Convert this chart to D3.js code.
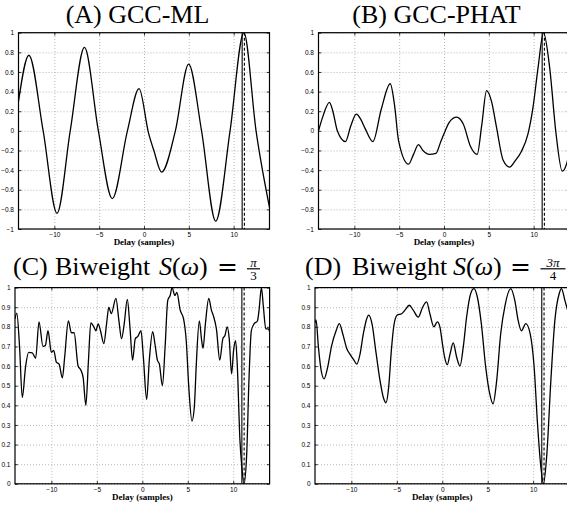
<!DOCTYPE html>
<html>
<head>
<meta charset="utf-8">
<script src="https://cdn.jsdelivr.net/npm/d3@7"></script>
<style>
  body { margin: 0; background: #fff; }
  svg { display: block; }
  .axis path, .grid path { display: none; }
  .axis line { stroke: #000; stroke-width: 0.8; }
  .axis text { font-family: "Liberation Sans", Arial, sans-serif; font-size: 6.5px; fill: #000; }
  .grid line { stroke: #888; stroke-width: 0.6; stroke-dasharray: 1,2; }
  .frame { fill: none; stroke: #000; stroke-width: 1.2; }
  .curve { fill: none; stroke: #000; stroke-width: 1.3; }
  .title { font-family: "Liberation Serif", "Times New Roman", serif; font-size: 26px; fill: #000; }
  .xlabel { font-family: "Liberation Serif", serif; font-weight: bold; font-size: 9px; }
</style>
</head>
<body>
<svg id="fig" width="567" height="505"></svg>
<script>
// Axis ticks
const delayTicks = [-10, -5, 0, 5, 10];
const gccTicks = [-1, -0.8, -0.6, -0.4, -0.2, 0, 0.2, 0.4, 0.6, 0.8, 1];
const biweightTicks = [0, 0.1, 0.2, 0.3, 0.4, 0.5, 0.6, 0.7, 0.8, 0.9, 1];
const delayRange = [-14, 14];

// Vertical markers (solid = true delay, dashed = estimate)
const trueDelay = 10.95;
const estimatedDelay = 11.2;

// [delay, value]
const gccML = [
  [-14, 0.30], [-12.84, 0.77], [-11.25, 0.0], [-9.7, -0.84], [-8.23, 0.0],
  [-6.64, 0.85], [-5.09, 0.0], [-3.54, -0.69], [-1.85, 0.0], [-0.55, 0.43],
  [0.5, -0.02], [1.1, -0.2], [1.96, -0.42], [3.5, 0.0], [4.98, 0.68],
  [6.42, 0.0], [8.0, -0.92], [9.6, 0.0], [11.14, 1.0], [12.5, 0.0], [14, -0.78]
];

const gccPHAT = [
  [-14, 0.0], [-13.5, 0.15], [-12.78, 0.29], [-12.4, 0.2], [-11.9, 0.0],
  [-11.0, -0.11], [-10.4, 0.05], [-9.78, 0.17], [-9.3, 0.12], [-8.78, 0.02],
  [-7.93, -0.11], [-7.0, 0.22], [-6.0, 0.48], [-5.5, 0.25], [-5.07, -0.1],
  [-3.96, -0.34], [-3.4, -0.24], [-2.85, -0.14], [-2.35, -0.2], [-1.63, -0.24],
  [-0.9, -0.23], [-0.4, -0.12], [0.0, -0.03], [0.6, 0.09], [1.41, 0.14],
  [2.15, 0.07], [2.96, -0.16], [3.7, -0.24], [4.2, 0.05], [4.75, 0.41],
  [5.3, 0.3], [5.85, 0.04], [6.6, -0.3], [7.33, -0.37], [7.9, -0.31],
  [8.63, -0.21], [9.37, -0.03], [9.93, 0.24], [10.5, 0.65], [11.1, 1.0],
  [11.78, 0.65], [12.5, -0.03], [13.19, -0.41], [13.7, -0.33], [14, -0.2]
];

const biweightThird = [
  [-14, 0.84], [-13.8, 0.87], [-13.5, 0.70], [-13.2, 0.44], [-12.83, 0.60],
  [-12.5, 0.67], [-12.1, 0.667], [-11.73, 0.64], [-11.36, 0.825], [-10.92, 0.70],
  [-10.66, 0.705], [-10.37, 0.78], [-10.0, 0.67], [-9.74, 0.68], [-9.45, 0.62],
  [-9.15, 0.61], [-8.79, 0.54], [-8.53, 0.65], [-8.13, 0.83], [-7.8, 0.77],
  [-7.5, 0.77], [-7.06, 0.60], [-6.76, 0.58], [-6.5, 0.54], [-6.21, 0.40],
  [-5.92, 0.63], [-5.66, 0.82], [-5.33, 0.80], [-5.11, 0.78], [-4.85, 0.815],
  [-4.6, 0.78], [-4.23, 0.715], [-3.93, 0.815], [-3.68, 0.90], [-3.42, 0.867],
  [-2.9, 0.945], [-2.57, 0.83], [-2.28, 0.74], [-1.99, 0.815], [-1.65, 0.94],
  [-1.36, 0.80], [-1.07, 0.63], [-0.77, 0.74], [-0.51, 0.75], [-0.15, 0.78],
  [0.11, 0.65], [0.48, 0.43], [0.77, 0.63], [1.14, 0.775], [1.4, 0.71],
  [1.66, 0.63], [1.88, 0.61], [2.21, 0.50], [2.51, 0.70], [2.8, 0.935],
  [3.06, 0.96], [3.28, 1.0], [3.58, 0.96], [3.8, 0.975], [4.17, 0.885],
  [4.54, 0.84], [4.83, 0.73], [5.13, 0.48], [5.46, 0.32], [5.72, 0.39],
  [5.94, 0.61], [6.27, 0.83], [6.53, 0.73], [6.68, 0.69], [6.94, 0.815],
  [7.31, 0.945], [7.6, 0.885], [7.86, 0.85], [8.15, 0.79], [8.52, 0.63],
  [8.86, 0.74], [9.08, 0.755], [9.34, 0.80], [9.56, 0.74], [9.82, 0.56],
  [10.04, 0.68], [10.26, 0.73], [10.44, 0.61], [10.74, 0.22], [10.95, 0.085],
  [11.18, 0.0], [11.48, 0.15], [11.73, 0.53], [11.99, 0.78], [12.29, 0.815],
  [12.66, 0.83], [12.84, 0.885], [13.1, 1.0], [13.32, 0.90], [13.58, 0.79],
  [13.87, 0.79], [14, 0.775]
];

const biweightThreeQuarter = [
  [-14, 0.82], [-13.88, 0.835], [-13.63, 0.70], [-13.33, 0.58], [-13.0, 0.535],
  [-12.64, 0.587], [-12.16, 0.706], [-11.68, 0.78], [-11.32, 0.816], [-10.95, 0.765],
  [-10.51, 0.69], [-10.07, 0.655], [-9.71, 0.63], [-9.41, 0.61], [-9.05, 0.66],
  [-8.68, 0.765], [-8.32, 0.84], [-8.1, 0.86], [-7.73, 0.816], [-7.29, 0.67],
  [-6.85, 0.527], [-6.48, 0.44], [-6.19, 0.413], [-5.9, 0.49], [-5.6, 0.68],
  [-5.31, 0.81], [-4.95, 0.86], [-4.47, 0.867], [-4.1, 0.885], [-3.63, 0.91],
  [-3.19, 0.885], [-2.64, 0.85], [-2.16, 0.90], [-1.72, 0.927], [-1.36, 0.867],
  [-0.92, 0.80], [-0.55, 0.825], [-0.26, 0.80], [0.0, 0.72], [0.26, 0.646],
  [0.55, 0.607], [0.85, 0.66], [1.21, 0.718], [1.58, 0.646], [1.95, 0.60],
  [2.32, 0.70], [2.68, 0.85], [3.13, 0.97], [3.49, 0.995], [3.86, 0.952],
  [4.3, 0.816], [4.78, 0.595], [5.22, 0.46], [5.59, 0.408], [5.99, 0.527],
  [6.43, 0.765], [6.91, 0.91], [7.54, 0.995], [7.98, 0.935], [8.35, 0.833],
  [8.71, 0.78], [9.19, 0.816], [9.67, 0.765], [10.11, 0.595], [10.48, 0.306],
  [10.85, 0.085], [11.14, 0.0], [11.51, 0.153], [11.95, 0.527], [12.39, 0.833],
  [12.87, 0.97], [13.12, 0.995], [13.49, 0.935], [13.79, 0.885], [14, 0.85]
];

class DelayPanel {
  constructor(_config, _data) {
    this.config = {
      parentElement: _config.parentElement,
      id: _config.id,
      left: _config.left,
      top: _config.top,
      width: _config.width,
      height: _config.height,
      yDomain: _config.yDomain,
      yTicks: _config.yTicks,
    };
    this.data = _data;
    this.initVis();
  }

  initVis() {
    let vis = this;
    const w = vis.config.width;
    const h = vis.config.height;

    vis.xScale = d3.scaleLinear().domain(delayRange).range([0, w]);
    vis.yScale = d3.scaleLinear().domain(vis.config.yDomain).range([h, 0]);

    vis.chart = d3
      .select(vis.config.parentElement)
      .append("g")
      .attr("transform", `translate(${vis.config.left},${vis.config.top})`);

    vis.chart
      .append("clipPath")
      .attr("id", `clip-${vis.config.id}`)
      .append("rect")
      .attr("width", w)
      .attr("height", h);

    // Dotted grid
    vis.chart
      .append("g")
      .attr("class", "grid")
      .attr("transform", `translate(0,${h})`)
      .call(d3.axisBottom(vis.xScale).tickValues(delayTicks).tickSize(-h).tickFormat(""));
    vis.chart
      .append("g")
      .attr("class", "grid")
      .call(d3.axisLeft(vis.yScale).tickValues(vis.config.yTicks).tickSize(-w).tickFormat(""));

    // Inward ticks on all four sides (matlab box)
    vis.chart
      .append("g")
      .attr("class", "axis x-axis")
      .attr("transform", `translate(0,${h})`)
      .call(
        d3.axisBottom(vis.xScale)
          .tickValues(delayTicks)
          .tickSizeInner(-2.8)
          .tickSizeOuter(0)
          .tickPadding(3.5)
          .tickFormat(d3.format("d"))
      );
    vis.chart
      .append("g")
      .attr("class", "axis")
      .call(d3.axisTop(vis.xScale).tickValues(delayTicks).tickSizeInner(-2.8).tickSizeOuter(0).tickFormat(""));
    vis.chart
      .append("g")
      .attr("class", "axis y-axis")
      .call(
        d3.axisLeft(vis.yScale)
          .tickValues(vis.config.yTicks)
          .tickSizeInner(-2.8)
          .tickSizeOuter(0)
          .tickPadding(4.5)
          .tickFormat(d3.format("~g"))
      );
    vis.chart
      .append("g")
      .attr("class", "axis")
      .attr("transform", `translate(${w},0)`)
      .call(d3.axisRight(vis.yScale).tickValues(vis.config.yTicks).tickSizeInner(-2.8).tickSizeOuter(0).tickFormat(""));

    vis.chart
      .append("text")
      .attr("class", "xlabel")
      .attr("x", w / 2)
      .attr("y", h + 16)
      .attr("text-anchor", "middle")
      .text("Delay (samples)");

    vis.renderVis();
  }

  renderVis() {
    let vis = this;
    const h = vis.config.height;

    const line = d3
      .line()
      .x((d) => vis.xScale(d[0]))
      .y((d) => vis.yScale(d[1]))
      .curve(d3.curveMonotoneX);

    vis.chart
      .append("path")
      .datum(vis.data)
      .attr("class", "curve")
      .attr("clip-path", `url(#clip-${vis.config.id})`)
      .attr("d", line);

    // true delay and estimate markers
    vis.chart
      .append("line")
      .attr("x1", vis.xScale(trueDelay))
      .attr("x2", vis.xScale(trueDelay))
      .attr("y1", 0)
      .attr("y2", h)
      .attr("stroke", "#000")
      .attr("stroke-width", 1.1);
    vis.chart
      .append("line")
      .attr("x1", vis.xScale(estimatedDelay))
      .attr("x2", vis.xScale(estimatedDelay))
      .attr("y1", 0)
      .attr("y2", h)
      .attr("stroke", "#000")
      .attr("stroke-width", 1.1)
      .attr("stroke-dasharray", "3,2");

    vis.chart
      .append("rect")
      .attr("class", "frame")
      .attr("width", vis.config.width)
      .attr("height", h);
  }
}

const svg = d3.select("#fig");

new DelayPanel({ parentElement: "#fig", id: "a", left: 18.5, top: 32.7, width: 251, height: 196.3, yDomain: [-1, 1], yTicks: gccTicks }, gccML);
new DelayPanel({ parentElement: "#fig", id: "b", left: 318.5, top: 32.7, width: 251, height: 196.3, yDomain: [-1, 1], yTicks: gccTicks }, gccPHAT);
new DelayPanel({ parentElement: "#fig", id: "c", left: 15, top: 287.6, width: 254.6, height: 196.2, yDomain: [0, 1], yTicks: biweightTicks }, biweightThird);
new DelayPanel({ parentElement: "#fig", id: "d", left: 315, top: 287.6, width: 254.5, height: 196.2, yDomain: [0, 1], yTicks: biweightTicks }, biweightThreeQuarter);

// Titles
svg.append("text").attr("class", "title").attr("x", 137.5).attr("y", 23)
  .attr("text-anchor", "middle").text("(A) GCC-ML");
svg.append("text").attr("class", "title").attr("x", 436.5).attr("y", 23)
  .attr("text-anchor", "middle").text("(B) GCC-PHAT");

function biweightTitle(x0, label, num, den, fracCenter, barWidth) {
  const t = svg.append("text").attr("class", "title").attr("y", 275);
  t.append("tspan").attr("x", x0).text(label);
  t.append("tspan").attr("x", x0 + (label === "(D)" ? 47 : 42)).text("Biweight");
  t.append("tspan").attr("x", x0 + (label === "(D)" ? 148 : 146)).style("font-style", "italic").text("S");
  t.append("tspan").text("(");
  t.append("tspan").style("font-style", "italic").text("ω");
  t.append("tspan").text(")");
  t.append("tspan").attr("x", x0 + (label === "(D)" ? 205 : 204))
    .style("font-family", "DejaVu Serif").style("font-size", "25px").text("=");

  const g = svg.append("g").attr("transform", `translate(${fracCenter},0)`);
  g.append("text").attr("class", "title").attr("y", 266.5).attr("text-anchor", "middle")
    .style("font-size", "13px").style("font-style", "italic").text(num);
  g.append("line").attr("x1", -barWidth / 2).attr("x2", barWidth / 2)
    .attr("y1", 268.8).attr("y2", 268.8).attr("stroke", "#000").attr("stroke-width", 1.2);
  g.append("text").attr("class", "title").attr("y", 280).attr("text-anchor", "middle")
    .style("font-size", "13px").text(den);
}

biweightTitle(13, "(C)", "π", "3", 253.5, 13);
biweightTitle(305, "(D)", "3π", "4", 553, 25);
</script>
</body>
</html>
